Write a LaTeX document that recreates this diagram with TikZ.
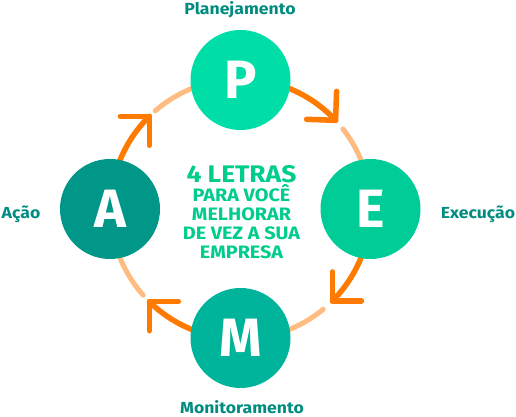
\documentclass[tikz,border=0pt]{standalone}
\usepackage{fontspec}
\setmainfont{Fira Sans}
\newfontfamily\widefont{Fira Sans}[FakeStretch=1.1]
\usetikzlibrary{calc}
\definecolor{cP}{RGB}{0,222,168}
\definecolor{cE}{RGB}{0,204,152}
\definecolor{cM}{RGB}{0,180,155}
\definecolor{cA}{RGB}{0,150,136}
\definecolor{cLabel}{RGB}{0,140,128}
\definecolor{cCenter}{RGB}{0,204,140}
\definecolor{cOrange}{RGB}{255,122,0}
\definecolor{cLight}{RGB}{255,187,128}
\begin{document}
\begin{tikzpicture}[x=1pt,y=1pt,
  stage/.style={circle, minimum size=100pt, inner sep=0pt, text=white,
    font=\fontsize{54}{54}\selectfont\bfseries},
  lbl/.style={text=cLabel, font=\widefont\fontsize{16}{16}\selectfont\bfseries, anchor=base, inner sep=0pt},
  bigtxt/.style={text=cCenter, font=\widefont\fontsize{24}{24}\selectfont\bfseries, anchor=base, inner sep=0pt},
  midtxt/.style={text=cCenter, font=\widefont\fontsize{18}{18}\selectfont\bfseries, anchor=base, inner sep=0pt},
  ring/.style={draw=cLight, line width=5pt, line cap=round},
  flow/.style={draw=cOrange, line width=5.5pt, line cap=round, line join=round}]
\useasboundingbox (0,0) rectangle (516,417);
\coordinate (O) at (240.5,208);
\def\R{130}
% light ring segments
\draw[ring] ($(O)+(131:\R)$) arc[start angle=131, end angle=100, radius=\R];
\draw[ring] ($(O)+(38:\R)$) arc[start angle=38, end angle=10, radius=\R];
\draw[ring] ($(O)+(-50.5:\R)$) arc[start angle=-50.5, end angle=-80, radius=\R];
\draw[ring] ($(O)+(221.5:\R)$) arc[start angle=221.5, end angle=190, radius=\R];
% orange arrows
\draw[flow] ($(O)+(80:\R)$) arc[start angle=80, end angle=43, radius=\R] coordinate (tPE);
\draw[flow] ($(tPE)+(88:29)$) -- (tPE) -- ($(tPE)+(178:29)$);
\draw[flow] ($(O)+(-10:\R)$) arc[start angle=-10, end angle=-45, radius=\R] coordinate (tEM);
\draw[flow] ($(tEM)+(90:29)$) -- (tEM) -- ($(tEM)+(0:29)$);
\draw[flow] ($(O)+(260:\R)$) arc[start angle=260, end angle=225.5, radius=\R] coordinate (tMA);
\draw[flow] ($(tMA)+(270:29)$) -- (tMA) -- ($(tMA)+(0:29)$);
\draw[flow] ($(O)+(170:\R)$) arc[start angle=170, end angle=134.5, radius=\R] coordinate (tAP);
\draw[flow] ($(tAP)+(180:29)$) -- (tAP) -- ($(tAP)+(270:29)$);
% stages
\node[stage, fill=cP] (P) at (240.5,337) {P};
\node[stage, fill=cE] (E) at (370.5,208) {E};
\node[stage, fill=cM] (M) at (240.5,79) {M};
\node[stage, fill=cA] (A) at (110,208) {A};
% labels
\node[lbl] (lP) at (240,402) {Planejamento};
\node[lbl] (lE) at (478,198) {Execução};
\node[lbl] (lA) at (21,198) {Ação};
\node[lbl] (lM) at (242,3.5) {Monitoramento};
% center text
\node[bigtxt] (t1) at (241.5,234) {4 LETRAS};
\node[midtxt] (t2) at (241.5,215) {PARA VOCÊ};
\node[midtxt] (t3) at (241.5,196) {MELHORAR};
\node[midtxt] (t4) at (241.5,177) {DE VEZ A SUA};
\node[midtxt] (t5) at (241.5,158) {EMPRESA};
\end{tikzpicture}
\end{document}
